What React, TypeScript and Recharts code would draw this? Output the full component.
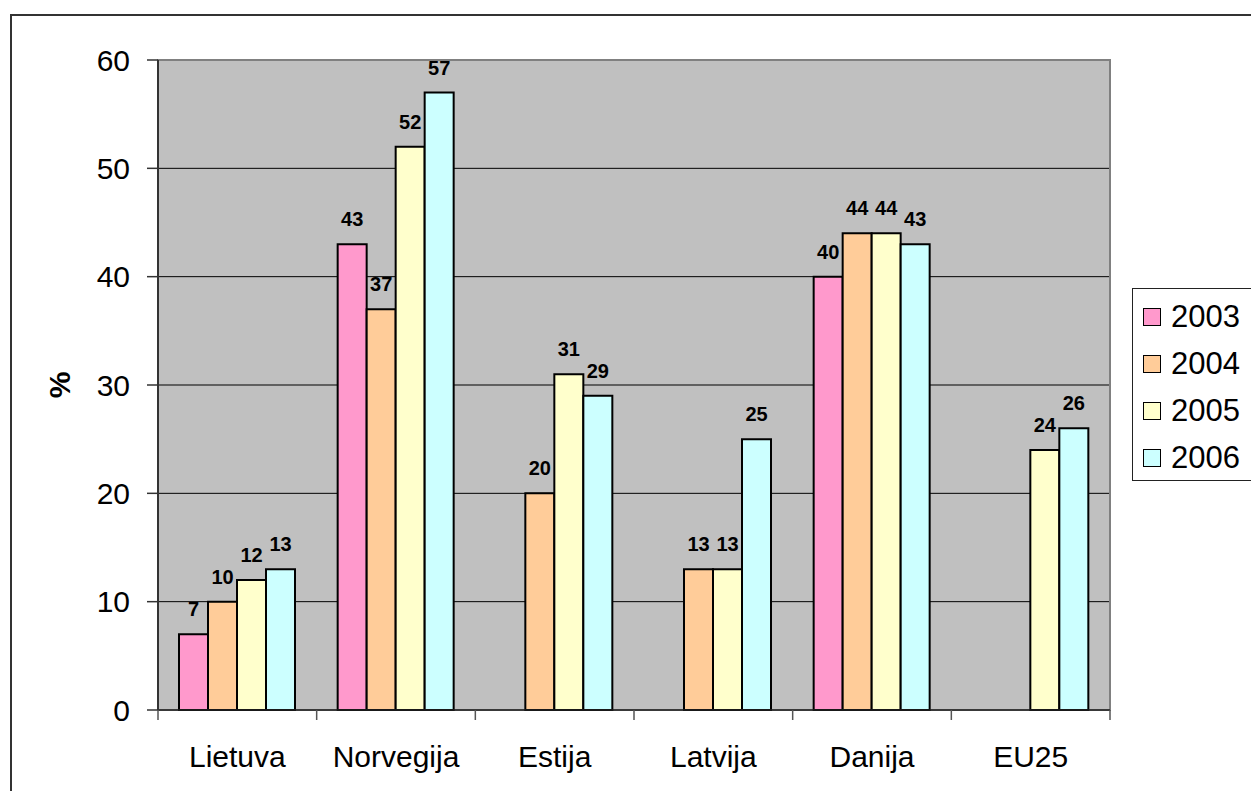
import React from 'react';
import {
  BarChart,
  Bar,
  XAxis,
  YAxis,
  CartesianGrid,
  LabelList,
  Legend,
  ReferenceArea,
} from 'recharts';

// Countries along the category axis
const categories = ['Lietuva', 'Norvegija', 'Estija', 'Latvija', 'Danija', 'EU25'];

// Survey years, one bar series each
const years = ['2003', '2004', '2005', '2006'];

// Share (%) per country; null where no figure exists for that year
const values2003 = [7, 43, null, null, 40, null];
const values2004 = [10, 37, 20, 13, 44, null];
const values2005 = [12, 52, 31, 13, 44, 24];
const values2006 = [13, 57, 29, 25, 43, 26];

const yTicks = [0, 10, 20, 30, 40, 50, 60];

const seriesColors = ['#FF99CC', '#FFCC99', '#FFFFCC', '#CCFFFF'];
const seriesValues = [values2003, values2004, values2005, values2006];

const data = categories.map((name, i) => {
  const row: Record<string, string | number | null> = { name };
  years.forEach((yr, s) => {
    row[yr] = seriesValues[s][i];
  });
  return row;
});

const FONT = '"Liberation Sans", Arial, Helvetica, sans-serif';
const CHART_W = 1251;
const CHART_H = 791;
const MARGIN = { top: 60, right: 141, bottom: 31, left: 20 };
const Y_AXIS_W = 138;
const X_AXIS_H = 50;
const PLOT_W = CHART_W - MARGIN.left - Y_AXIS_W - MARGIN.right;

// Category label centred in its band, with tick marks on the band edges
const CategoryTick = (props: any) => {
  const { x, y, payload, index } = props;
  const band = PLOT_W / categories.length;
  const left = x - band / 2;
  return (
    <g>
      <line x1={left} x2={left} y1={y} y2={y + 10} stroke="#555" strokeWidth={1.5} />
      {index === categories.length - 1 && (
        <line x1={left + band} x2={left + band} y1={y} y2={y + 10} stroke="#555" strokeWidth={1.5} />
      )}
      <text x={x} y={y + 57} textAnchor="middle" fontSize={30} fontFamily={FONT} fill="#000">
        {payload.value}
      </text>
    </g>
  );
};

const ValueLabel = (props: any) => {
  const { x, y, width, value } = props;
  if (value === null || value === undefined) return null;
  return (
    <text
      x={x + width / 2}
      y={y - 18}
      textAnchor="middle"
      fontSize={20}
      fontWeight="bold"
      fontFamily={FONT}
      fill="#000"
    >
      {value}
    </text>
  );
};

const PercentLabel = (props: any) => {
  const { viewBox } = props;
  const cx = viewBox.x + 39.5;
  const cy = viewBox.y + viewBox.height / 2;
  return (
    <text
      x={cx}
      y={cy}
      transform={`rotate(-90, ${cx}, ${cy})`}
      textAnchor="middle"
      dominantBaseline="central"
      fontSize={30}
      fontWeight="bold"
      fontFamily={FONT}
      fill="#000"
    >
      %
    </text>
  );
};

const YearLegend = () => (
  <div
    style={{
      boxSizing: 'border-box',
      width: '100%',
      height: '100%',
      borderTop: '1.5px solid #222',
      borderLeft: '1.5px solid #222',
      borderBottom: '1.5px solid #222',
      background: '#fff',
      paddingTop: 4,
      fontFamily: FONT,
    }}
  >
    {years.map((yr, i) => (
      <div key={yr} style={{ height: 47, display: 'flex', alignItems: 'center' }}>
        <span
          style={{
            display: 'inline-block',
            boxSizing: 'border-box',
            width: 18,
            height: 18,
            marginLeft: 10,
            marginRight: 10,
            background: seriesColors[i],
            border: '1.5px solid #000',
          }}
        />
        <span style={{ fontSize: 31, color: '#000', lineHeight: '47px' }}>{yr}</span>
      </div>
    ))}
  </div>
);

export default function App() {
  return (
    <div
      style={{
        position: 'fixed',
        left: 0,
        top: 0,
        width: CHART_W,
        height: CHART_H,
        background: '#fff',
        overflow: 'hidden',
      }}
    >
      <div
        style={{
          position: 'absolute',
          left: 10,
          top: 14,
          width: CHART_W,
          height: CHART_H,
          borderTop: '2px solid #333',
          borderLeft: '2px solid #333',
        }}
      />
      <div style={{ position: 'absolute', left: 0, top: 0 }}>
        <BarChart
          width={CHART_W}
          height={CHART_H}
          data={data}
          margin={MARGIN}
          barGap={0}
          barCategoryGap={21}
        >
          <CartesianGrid vertical={false} stroke="#000" strokeWidth={1} fill="#C0C0C0" fillOpacity={1} />
          <ReferenceArea y1={0} y2={60} fill="none" stroke="#808080" strokeWidth={2} />
          <XAxis
            dataKey="name"
            height={X_AXIS_H}
            tickLine={false}
            tickSize={0}
            tickMargin={0}
            axisLine={{ stroke: '#222', strokeWidth: 1.5 }}
            tick={<CategoryTick />}
            interval={0}
          />
          <YAxis
            width={Y_AXIS_W}
            domain={[0, 60]}
            ticks={yTicks}
            interval={0}
            tickSize={11}
            tickMargin={17}
            tickLine={{ stroke: '#333', strokeWidth: 1.5 }}
            axisLine={{ stroke: '#333', strokeWidth: 2 }}
            tick={{ fontSize: 30, fill: '#000', fontFamily: FONT }}
            label={<PercentLabel />}
          />
          <Legend
            layout="vertical"
            align="center"
            verticalAlign="middle"
            content={<YearLegend />}
            wrapperStyle={{ left: 1132, top: 288, width: 140, height: 193 }}
          />
          {years.map((yr, i) => (
            <Bar
              key={yr}
              dataKey={yr}
              name={yr}
              fill={seriesColors[i]}
              stroke="#000"
              strokeWidth={2}
              isAnimationActive={false}
            >
              <LabelList dataKey={yr} content={<ValueLabel />} />
            </Bar>
          ))}
        </BarChart>
      </div>
    </div>
  );
}
